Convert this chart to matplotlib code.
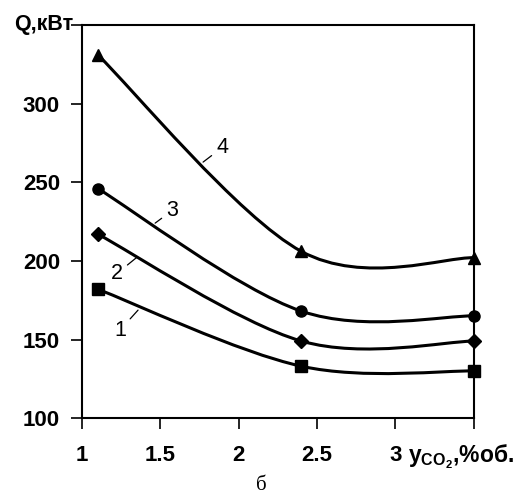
import matplotlib.pyplot as plt
import numpy as np
from matplotlib.path import Path
from matplotlib.patches import PathPatch

plt.rcParams['font.family'] = ['Liberation Sans', 'DejaVu Sans']
plt.rcParams['font.weight'] = 'bold'
plt.rcParams['mathtext.fontset'] = 'custom'
plt.rcParams['mathtext.rm'] = 'Liberation Sans:bold'
plt.rcParams['mathtext.it'] = 'Liberation Sans:bold'

# данные
x_vals = [1.1, 2.4, 3.5]
q1 = [182, 133, 130]
q2 = [217, 149, 149]
q3 = [246, 168, 165]
q4 = [331, 206, 202]
series = [q1, q2, q3, q4]
markers = ['s', 'D', 'o', '^']
curve_names = ['1', '2', '3', '4']
# подписи кривых: (точка на кривой, положение текста)
label_pts = [((1.357, 168.7), (1.242, 156)),
             ((1.351, 202.4), (1.223, 192)),
             ((1.466, 224.0), (1.574, 232)),
             ((1.772, 262.8), (1.893, 272))]

x_ticks = [1, 1.5, 2, 2.5, 3, 3.5]
x_ticklabels = ['1', '1.5', '2', '2.5', '3', '']
y_ticks = [100, 150, 200, 250, 300, 350]
y_ticklabels = ['100', '150', '200', '250', '300', '']


def smooth_path(xs, ys):
    """Сглаженная кривая как в Excel (Безье)"""
    p = np.column_stack([xs, ys]).astype(float)
    n = len(p)
    d = np.zeros_like(p)
    for i in range(n):
        a = p[max(i - 1, 0)]
        b = p[min(i + 1, n - 1)]
        d[i] = (b - a) / 6
    verts = [p[0]]
    codes = [Path.MOVETO]
    for i in range(n - 1):
        verts += [p[i] + d[i], p[i + 1] - d[i + 1], p[i + 1]]
        codes += [Path.CURVE4] * 3
    return Path(verts, codes)


fig = plt.figure(figsize=(5.23, 4.99), dpi=100)
ax = fig.add_axes([0.157, 0.162, 0.749, 0.788])

for ys, m in zip(series, markers):
    ax.add_patch(PathPatch(smooth_path(x_vals, ys), fill=False,
                           edgecolor='black', lw=2.2, zorder=2))
    ax.plot(x_vals, ys, linestyle='none', marker=m, color='black',
            markersize=8 if m != 'D' else 7, zorder=3, clip_on=False)

for name, (pt, txt) in zip(curve_names, label_pts):
    ax.annotate(name, xy=pt, xytext=txt, fontsize=15.5, weight='normal',
                ha='center', va='center',
                arrowprops=dict(arrowstyle='-', color='black', lw=0.9,
                                shrinkA=1.5, shrinkB=0))

ax.set_xlim(1, 3.5)
ax.set_ylim(100, 350)
ax.set_xticks(x_ticks)
ax.set_xticklabels(x_ticklabels)
ax.set_yticks(y_ticks)
ax.set_yticklabels(y_ticklabels)
ax.tick_params(direction='out', length=8, width=1.2, labelsize=16)
ax.tick_params(axis='x', pad=11)
ax.tick_params(axis='y', pad=8)
for s in ax.spines.values():
    s.set_linewidth(1.5)

ax.text(-0.022, 1.0, 'Q,кВт', transform=ax.transAxes, ha='right',
        va='center', fontsize=15.5)
ax.text(0.832, -0.098, r'$\mathrm{y}_{\mathrm{CO}_2}$,%об.', transform=ax.transAxes,
        ha='left', va='center', fontsize=16.5)
fig.text(0.5, 0.028, 'б', family=['Liberation Serif', 'DejaVu Serif'],
         weight='normal', fontsize=15, ha='center', va='center')

plt.savefig('out.png', dpi=100)
